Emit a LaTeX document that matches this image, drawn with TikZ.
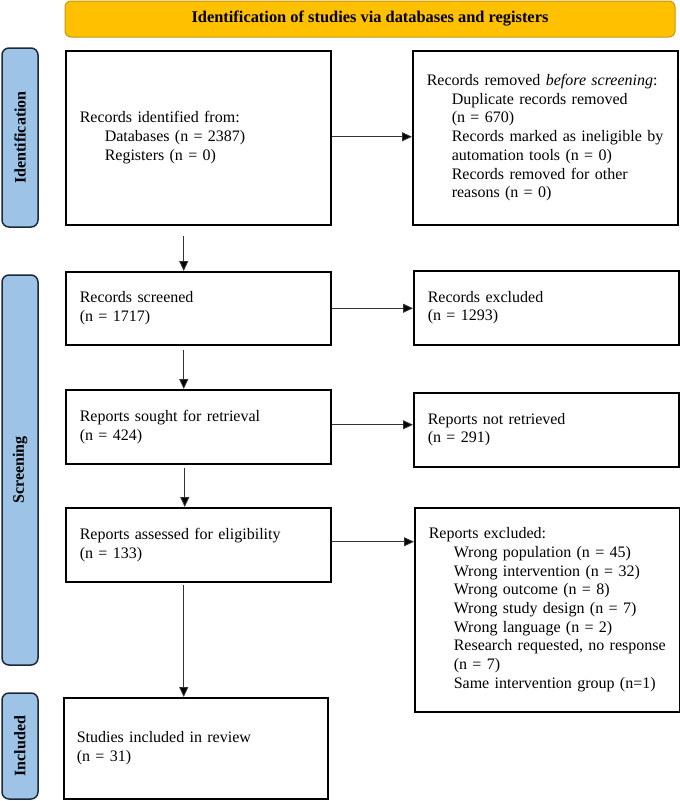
\documentclass[tikz,border=0pt]{standalone}
\usepackage{fontspec}
\setmainfont{Liberation Serif}
\usetikzlibrary{arrows.meta}
\definecolor{hdfill}{HTML}{FFC000}
\definecolor{hddraw}{HTML}{C9980A}
\definecolor{sidefill}{HTML}{9DC3E6}
\definecolor{sidedraw}{HTML}{1C2838}
\newcommand{\bodyfs}{\fontsize{16}{18.7}\selectfont}
\newcommand{\ind}{\hspace*{25pt}}
\tikzset{
  flowbox/.style={draw=black, line width=1.5pt, inner xsep=14pt, inner ysep=0pt,
    align=left, anchor=north west, font=\bodyfs},
  sidebox/.style={draw=sidedraw, fill=sidefill, line width=1.5pt, rounded corners=7pt,
    rotate=90, minimum height=36pt, inner sep=0pt, font=\fontsize{16}{18}\selectfont\bfseries},
  arr/.style={draw=black!80, line width=0.9pt, -{Triangle[length=10pt,width=9pt,fill=black]}}
}
\begin{document}
\begin{tikzpicture}[x=1pt,y=-1pt]
\useasboundingbox (0,0) rectangle (680,801);
% header
\node[draw=hddraw, fill=hdfill, line width=1pt, rounded corners=6pt, minimum width=610pt,
  minimum height=36pt, inner sep=0pt, font=\fontsize{16.4}{18}\selectfont\bfseries] (hd) at (370,19)
  {Identification of studies via databases and registers};
% side labels
\node[sidebox, minimum width=179pt] (s1) at (20,137.5) {Identification};
\node[sidebox, minimum width=390pt] (s2) at (20,470) {Screening};
\node[sidebox, minimum width=106pt] (s3) at (20,746) {Included};
% boxes
\node[flowbox, text width=237pt, minimum height=174pt] (b1) at (65,50)
  {Records identified from:\\ \ind Databases (n = 2387)\\ \ind Registers (n = 0)};
\node[flowbox, text width=237pt, minimum height=174pt] (b2) at (412,50)
  {Records removed \textit{before screening}:\\
   \ind Duplicate records removed\\
   \ind (n = 670)\\
   \ind Records marked as ineligible by\\
   \ind automation tools (n = 0)\\
   \ind Records removed for other\\
   \ind reasons (n = 0)};
\node[flowbox, text width=237pt, minimum height=73pt] (b3) at (65,271)
  {Records screened\\(n = 1717)};
\node[flowbox, text width=237pt, minimum height=74pt] (b4) at (413,270)
  {Records excluded\\(n = 1293)};
\node[flowbox, text width=237pt, minimum height=74pt] (b5) at (65,389)
  {Reports sought for retrieval\\(n = 424)};
\node[flowbox, text width=237pt, minimum height=74pt] (b6) at (413,392)
  {Reports not retrieved\\(n = 291)};
\node[flowbox, text width=237pt, minimum height=74pt] (b7) at (65,507)
  {Reports assessed for eligibility\\(n = 133)};
\node[flowbox, text width=237pt, minimum height=204pt] (b8) at (414,507)
  {Reports excluded:\\
   \ind Wrong population (n = 45)\\
   \ind Wrong intervention (n = 32)\\
   \ind Wrong outcome (n = 8)\\
   \ind Wrong study design (n = 7)\\
   \ind Wrong language (n = 2)\\
   \ind Research requested, no response\\
   \ind (n = 7)\\
   \ind Same intervention group (n=1)};
\node[flowbox, inner xsep=13pt, text width=238pt, minimum height=101pt] (b9) at (63,697)
  {Studies included in review\\(n = 31)};
% horizontal arrows
\draw[arr] ([yshift=1pt]b1.east) -- ([yshift=1pt]b1.east -| b2.west);
\draw[arr] (b3.east) -- (b3.east -| b4.west);
\draw[arr] ([yshift=2pt]b5.east) -- ([yshift=2pt]b5.east -| b6.west);
\draw[arr] ([yshift=3pt]b7.east) -- ([yshift=3pt]b7.east -| b8.west);
% vertical arrows
\draw[arr] ([xshift=-14.5pt,yshift=-10pt]b1.south) -- ([xshift=-14.5pt]b1.south |- b3.north);
\draw[arr] ([xshift=-14.5pt,yshift=-4pt]b3.south) -- ([xshift=-14.5pt]b3.south |- b5.north);
\draw[arr] ([xshift=-13.5pt,yshift=-3pt]b5.south) -- ([xshift=-13.5pt]b5.south |- b7.north);
\draw[arr] ([xshift=-14.5pt,yshift=-2pt]b7.south) -- ([xshift=-14.5pt]b7.south |- b9.north);
\end{tikzpicture}
\end{document}
